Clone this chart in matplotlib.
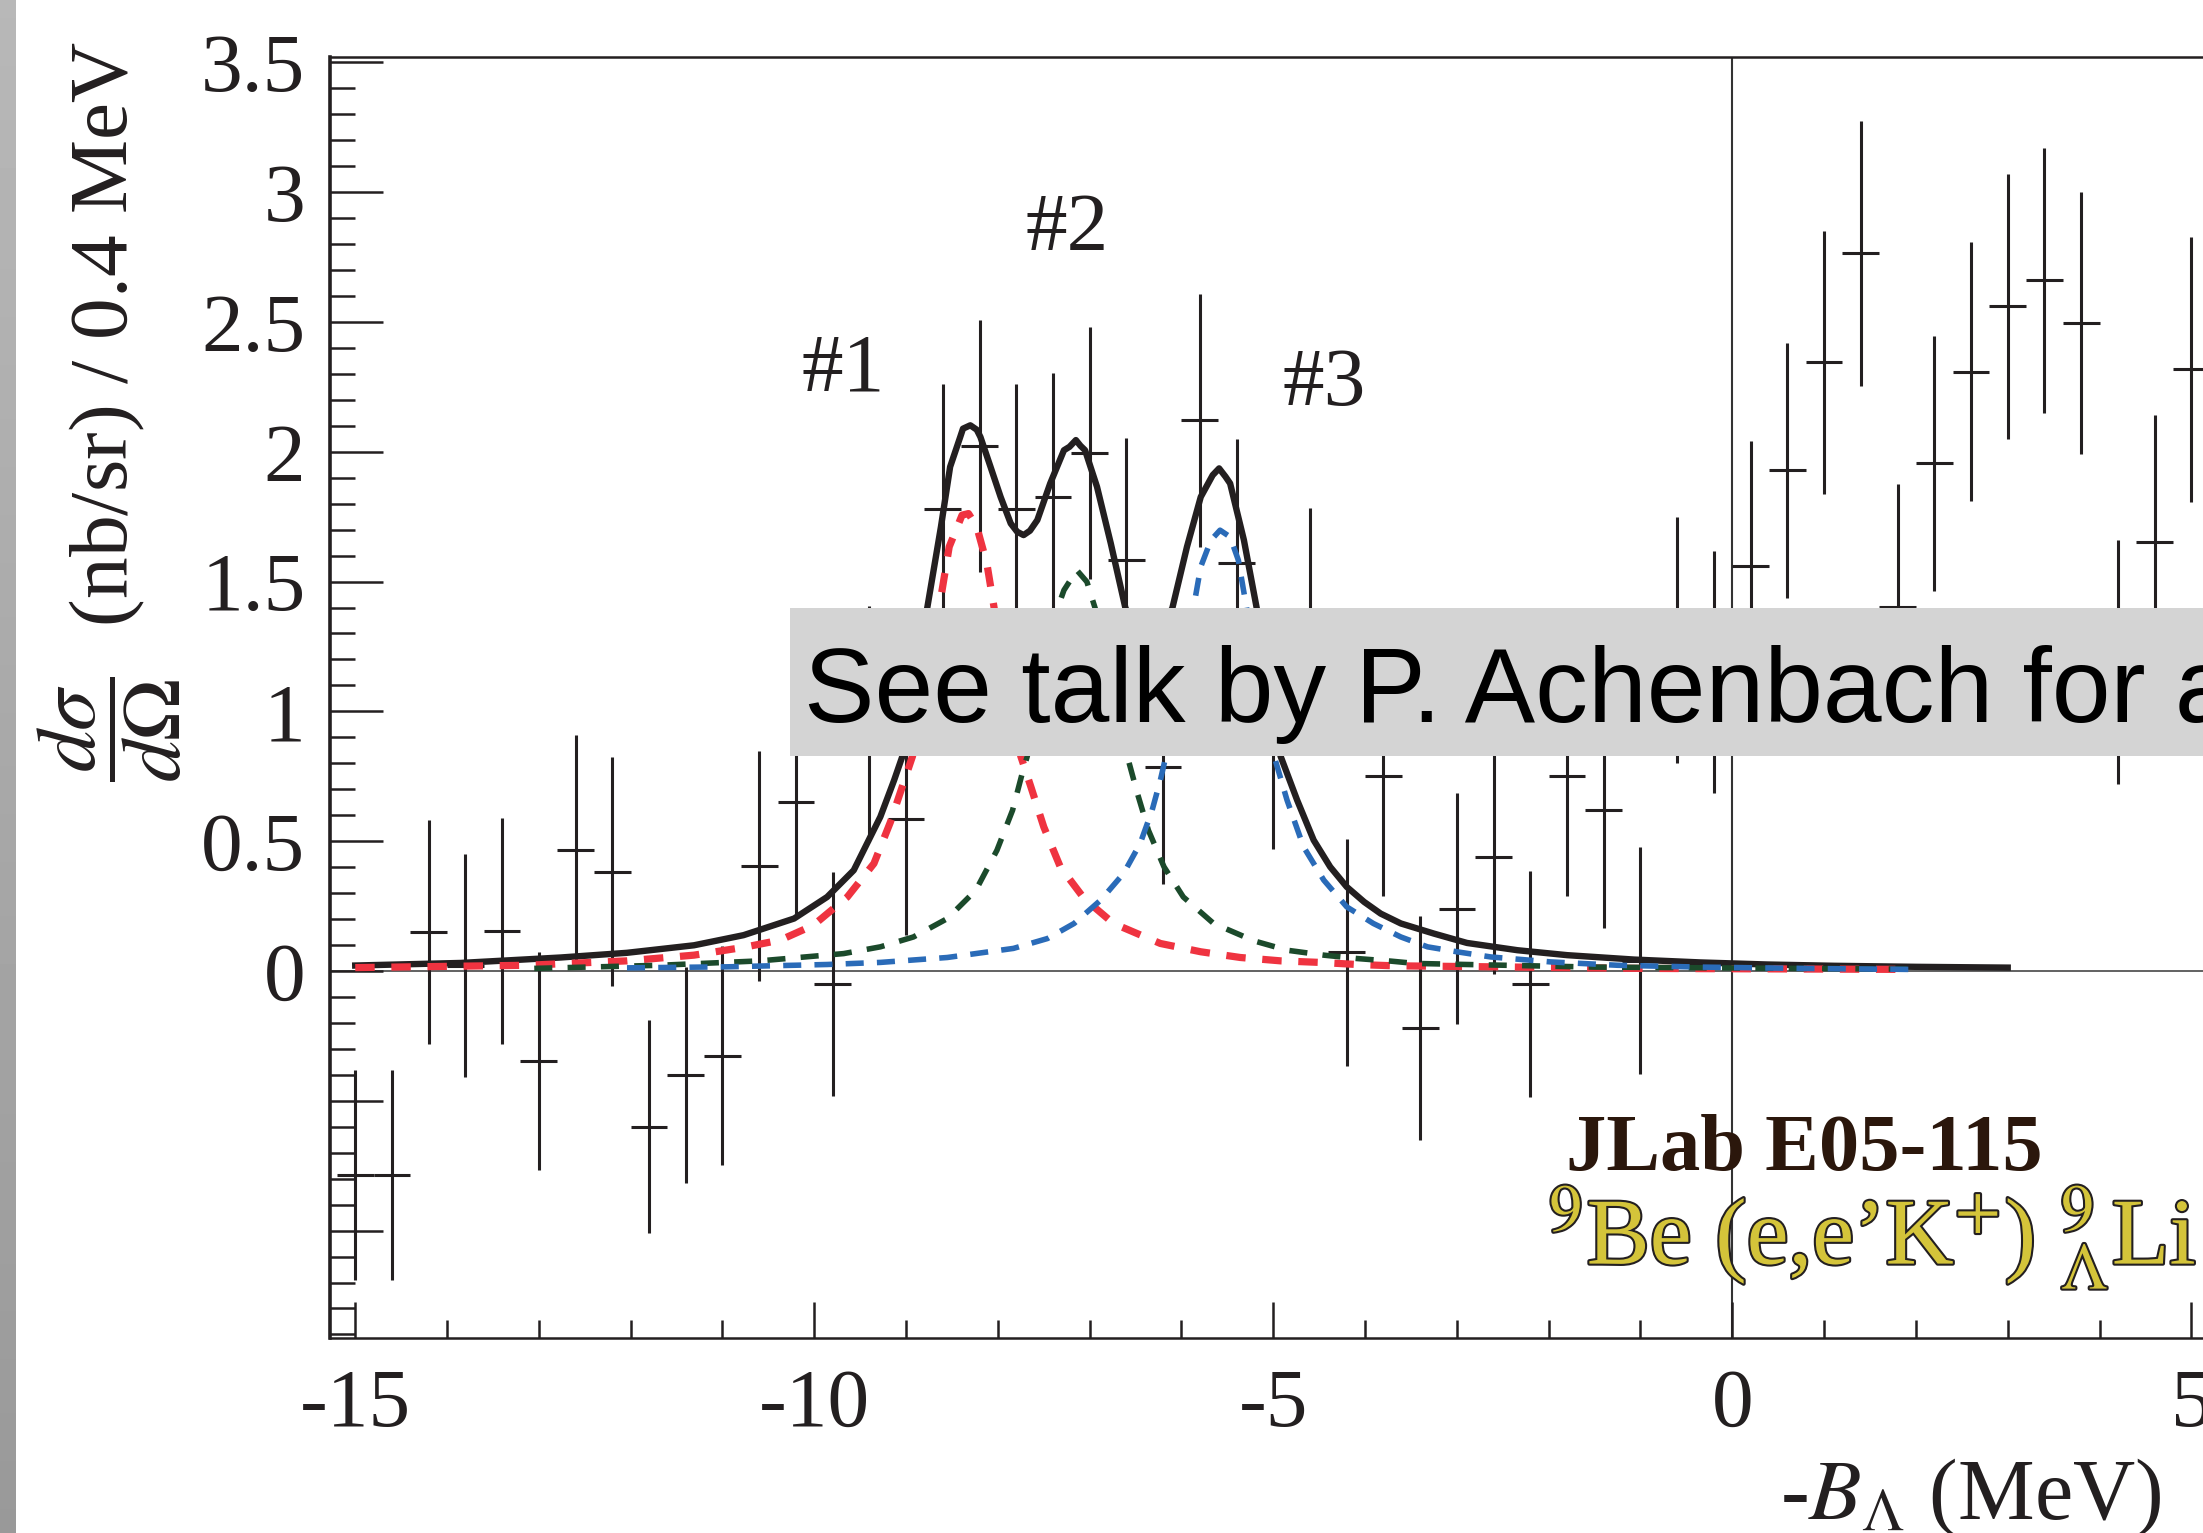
import matplotlib
matplotlib.use('agg')
import matplotlib.pyplot as plt
import matplotlib.patheffects as pe
from matplotlib.patches import Rectangle
from matplotlib.ticker import MultipleLocator
import numpy as np

plt.rcParams['font.family'] = ['Liberation Serif', 'DejaVu Serif']
plt.rcParams['mathtext.fontset'] = 'stix'
plt.rcParams['axes.unicode_minus'] = False
plt.rcParams['lines.scale_dashes'] = False

# binned spectrum (0.4 MeV bins)
bin_x = [-15.0, -14.6, -14.2, -13.8, -13.4, -13.0, -12.6, -12.2, -11.8, -11.4,
         -11.0, -10.6, -10.2, -9.8, -9.4, -9.0, -8.6, -8.2, -7.8, -7.4,
         -7.0, -6.6, -6.2, -5.8, -5.4, -5.0, -4.6, -4.2, -3.8, -3.4,
         -3.0, -2.6, -2.2, -1.8, -1.4, -1.0, -0.6, -0.2, 0.2, 0.6,
         1.0, 1.4, 1.8, 2.2, 2.6, 3.0, 3.4, 3.8, 4.2, 4.6, 5.0]
bin_y = [-0.785, -0.785, 0.15, 0.02, 0.155, -0.345, 0.465, 0.383, -0.60, -0.40,
         -0.326, 0.405, 0.65, -0.05, 0.95, 0.584, 1.781, 2.022, 1.781, 1.824,
         1.995, 1.582, 0.785, 2.121, 1.573, 0.92, 1.33, 0.072, 0.75, -0.22,
         0.24, 0.44, -0.05, 0.75, 0.62, 0.04, 1.275, 1.15, 1.561, 1.928,
         2.344, 2.765, 1.401, 1.955, 2.309, 2.56, 2.66, 2.495, 1.19, 1.652, 2.318]
bin_err = [0.405, 0.405, 0.43, 0.43, 0.435, 0.42, 0.445, 0.44, 0.41, 0.415,
           0.422, 0.443, 0.44, 0.432, 0.455, 0.444, 0.48, 0.485, 0.48, 0.48,
           0.485, 0.47, 0.45, 0.487, 0.475, 0.45, 0.455, 0.438, 0.46, 0.43,
           0.445, 0.45, 0.435, 0.46, 0.455, 0.437, 0.475, 0.466, 0.48, 0.49,
           0.505, 0.51, 0.475, 0.49, 0.50, 0.51, 0.51, 0.505, 0.47, 0.49, 0.51]
bin_half = 0.2

# fitted curves
total_x = [-15.0, -13.85, -12.76, -12.04, -11.31, -10.77, -10.22, -9.86, -9.57, -9.28,
           -9.13, -9.04, -8.77, -8.62, -8.52, -8.41, -8.38, -8.30, -8.23, -8.19,
           -8.08, -7.97, -7.86, -7.79, -7.72, -7.65, -7.57, -7.43, -7.28, -7.22,
           -7.15, -7.10, -7.05, -6.92, -6.77, -6.61, -6.35, -6.10, -5.94, -5.79,
           -5.66, -5.59, -5.52, -5.47, -5.32, -5.18, -4.92, -4.74, -4.56, -4.38,
           -4.20, -4.01, -3.83, -3.61, -3.25, -2.89, -2.34, -1.80, -1.07, -0.35,
           0.38, 1.11, 2.01, 3.0]
total_y = [0.021, 0.031, 0.052, 0.070, 0.099, 0.138, 0.202, 0.285, 0.388, 0.594,
           0.735, 0.827, 1.397, 1.711, 1.942, 2.057, 2.089, 2.102, 2.085, 2.057,
           1.942, 1.826, 1.724, 1.692, 1.679, 1.696, 1.737, 1.878, 2.006, 2.019,
           2.045, 2.023, 2.006, 1.865, 1.647, 1.397, 1.25, 1.397, 1.634, 1.826,
           1.91, 1.936, 1.904, 1.878, 1.66, 1.397, 0.827, 0.658, 0.504, 0.401,
           0.324, 0.266, 0.221, 0.183, 0.144, 0.108, 0.080, 0.061, 0.044, 0.033,
           0.025, 0.020, 0.016, 0.013]

red_x = [-15.0, -13.13, -12.04, -11.31, -10.77, -10.37, -10.01, -9.64, -9.35, -9.17,
         -9.03, -8.93, -8.64, -8.53, -8.39, -8.32, -8.23, -8.12, -8.04, -7.75,
         -7.64, -7.50, -7.32, -7.06, -6.74, -6.23, -5.79, -5.36, -4.92, -4.49,
         -4.09, -3.69, -1.0, 1.95]
red_y = [0.013, 0.022, 0.039, 0.061, 0.091, 0.119, 0.176, 0.285, 0.414, 0.574,
         0.722, 0.827, 1.397, 1.634, 1.756, 1.762, 1.711, 1.570, 1.397, 0.827,
         0.709, 0.555, 0.401, 0.279, 0.183, 0.106, 0.074, 0.052, 0.039, 0.033,
         0.025, 0.020, 0.010, 0.006]

green_x = [-13.05, -11.68, -10.59, -9.68, -9.28, -8.92, -8.55, -8.24, -8.01, -7.84,
           -7.74, -7.68, -7.35, -7.28, -7.14, -7.03, -6.94, -6.59, -6.48, -6.36,
           -6.19, -5.98, -5.65, -5.21, -4.85, -4.45, -4.09, -3.72, -3.45, -1.5, 1.95]
green_y = [0.010, 0.022, 0.039, 0.067, 0.093, 0.131, 0.202, 0.311, 0.465, 0.619,
           0.754, 0.827, 1.397, 1.467, 1.544, 1.499, 1.397, 0.827, 0.684, 0.542,
           0.401, 0.285, 0.183, 0.116, 0.080, 0.061, 0.048, 0.038, 0.029, 0.015, 0.007]

blue_x = [-12.04, -10.95, -9.86, -9.28, -8.55, -7.83, -7.46, -7.17, -6.88, -6.63,
          -6.45, -6.32, -6.23, -6.17, -5.87, -5.79, -5.68, -5.58, -5.47, -5.38,
          -5.29, -4.99, -4.85, -4.67, -4.45, -4.20, -3.91, -3.61, -3.32, -3.00,
          -2.63, -1.98, -1.25, -0.35, 0.74, 1.95]
blue_y = [0.012, 0.016, 0.025, 0.033, 0.052, 0.087, 0.125, 0.183, 0.273, 0.376,
          0.491, 0.619, 0.735, 0.827, 1.397, 1.557, 1.659, 1.698, 1.672, 1.582,
          1.397, 0.827, 0.658, 0.478, 0.350, 0.247, 0.183, 0.131, 0.093, 0.074,
          0.054, 0.035, 0.022, 0.015, 0.010, 0.006]

x_ticks = [-15, -10, -5, 0, 5]
x_labels = ['-15', '-10', '-5', '0', '5']
y_ticks = [-1.0, -0.5, 0.0, 0.5, 1.0, 1.5, 2.0, 2.5, 3.0, 3.5]
y_labels = ['', '', '0', '0.5', '1', '1.5', '2', '2.5', '3', '3.5']

ink = '#231f20'

fig = plt.figure(figsize=(22.03, 15.33), dpi=100)

# grey strip at the left edge of the slide
strip = fig.add_axes([0, 0, 16 / 2203, 1])
strip.imshow(np.linspace(0.72, 0.60, 256).reshape(-1, 1), cmap='gray', vmin=0, vmax=1,
             aspect='auto', extent=[0, 1, 0, 1])
strip.axis('off')

ax = fig.add_axes([0.150, 0.1275, 0.8697, 0.8352])
ax.set_xlim(-15.27, 5.6)
ax.set_ylim(-1.412, 3.52)

ax.axhline(0, color='#555555', lw=1.3, zorder=1)
ax.axvline(0, color='#333333', lw=1.5, zorder=1)

ax.errorbar(bin_x, bin_y, yerr=bin_err, xerr=bin_half, fmt='none',
            ecolor=ink, elinewidth=2.2, capsize=0, zorder=2)

ax.plot(total_x, total_y, color=ink, lw=4.6, zorder=3, solid_joinstyle='round')
ax.plot(red_x, red_y, color='#ef3340', lw=5.2, dashes=(14, 12), zorder=4)
ax.plot(green_x, green_y, color='#1b4a2b', lw=4.0, dashes=(13, 11), zorder=5)
ax.plot(blue_x, blue_y, color='#2a6bb8', lw=4.0, dashes=(13, 9.5), zorder=6)

ax.set_xticks(x_ticks)
ax.set_xticklabels(x_labels)
ax.set_yticks(y_ticks)
ax.set_yticklabels(y_labels)
ax.xaxis.set_minor_locator(MultipleLocator(1))
ax.yaxis.set_minor_locator(MultipleLocator(0.1))
ax.tick_params(which='both', direction='in', top=False, right=False, colors=ink,
               labelsize=60)
ax.tick_params(axis='y', which='major', length=38, width=1.8, pad=18)
ax.tick_params(axis='y', which='minor', length=18, width=1.8)
ax.tick_params(axis='x', which='major', length=26, width=1.8, pad=22)
ax.tick_params(axis='x', which='minor', length=13, width=1.8)
for side in ['left', 'bottom', 'top']:
    ax.spines[side].set_color(ink)
    ax.spines[side].set_linewidth(1.8)
ax.spines['left'].set_linewidth(2.6)
ax.spines['right'].set_visible(False)

ax.text(-9.69, 2.235, '#1', fontsize=60, color=ink, ha='center', va='baseline')
ax.text(-7.245, 2.777, '#2', fontsize=60, color=ink, ha='center', va='baseline')
ax.text(-4.45, 2.18, '#3', fontsize=60, color=ink, ha='center', va='baseline')

fig.text(0.05, 0.4899, r'$\dfrac{d\sigma}{d\mathit{\Omega}}$  (nb/sr) / 0.4 MeV',
         rotation=90, ha='center', va='bottom', fontsize=60, color=ink)
fig.text(0.981, 0.0091, r'-$B_{\Lambda}$ (MeV)', ha='right', va='baseline',
         fontsize=62, color=ink)

fig.text(1566 / 2203, 1 - 1170 / 1533, 'JLab E05-115', fontsize=58,
         fontweight='bold', color='#2b170c', ha='left', va='baseline', zorder=12)
fig.text(1548 / 2203, 1 - 1264 / 1533,
         r'$^{9}$Be (e,e’K$^{+}$) ${}^{9}_{\Lambda}$Li', fontsize=68,
         color='#d4c43a', ha='left', va='baseline', zorder=12,
         path_effects=[pe.withStroke(linewidth=3.0, foreground=ink)])

# slide overlay box
fig.add_artist(Rectangle((790 / 2203, 1 - 756 / 1533), 1.0, 148 / 1533,
                         transform=fig.transFigure, facecolor='#d4d4d4',
                         edgecolor='none', zorder=10))
fig.text(804 / 2203, 1 - 722 / 1533, 'See talk by P. Achenbach for a',
         family='Liberation Sans', fontsize=76, color='black',
         ha='left', va='baseline', zorder=11)

plt.savefig('out.png', dpi=100)
